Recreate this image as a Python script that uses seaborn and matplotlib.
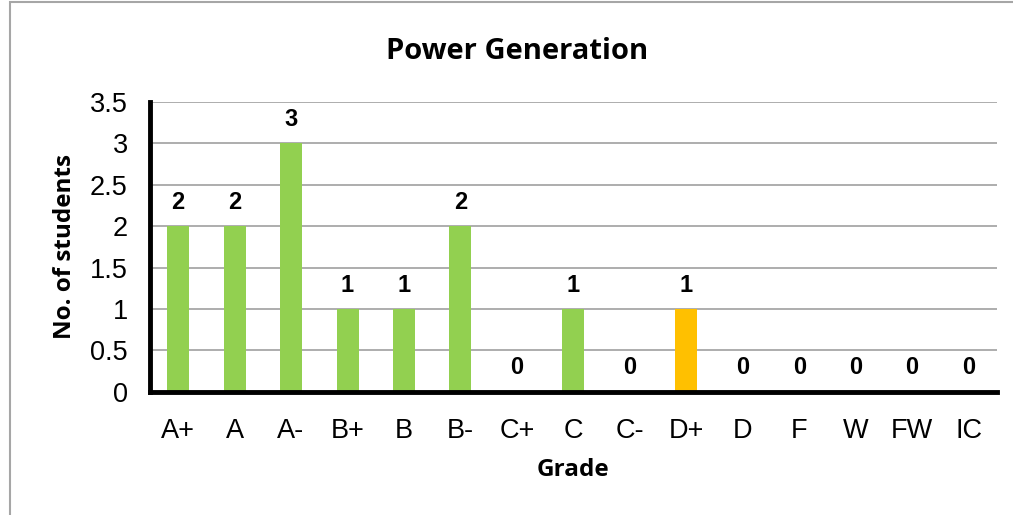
import numpy as np
import pandas as pd
import matplotlib.pyplot as plt
import seaborn as sns

# data
grades = ["A+", "A", "A-", "B+", "B", "B-", "C+", "C", "C-", "D+", "D", "F", "W", "FW", "IC"]
students = [2, 2, 3, 1, 1, 2, 0, 1, 0, 1, 0, 0, 0, 0, 0]
highlight = "D+"

green = "#92D050"
orange = "#FFC000"

df = pd.DataFrame({"grade": grades, "students": students})
palette = {g: (orange if g == highlight else green) for g in grades}

sns.set_style("white")
plt.rcParams['font.family'] = ['Liberation Sans', 'DejaVu Sans']
# excel-style black text instead of seaborn's dark grey
plt.rcParams.update({"text.color": "black", "axes.labelcolor": "black",
                     "xtick.color": "black", "ytick.color": "black"})

fig = plt.figure(figsize=(10.13, 5.15), dpi=100)
ax = fig.add_axes([0.148, 0.239, 0.836, 0.563])

sns.barplot(data=df, x="grade", y="students", hue="grade", palette=palette,
            width=0.39, legend=False, saturation=1, linewidth=0, ax=ax)

ax.set_ylim(0, 3.5)
ax.set_xlim(-0.5, len(grades) - 0.5)
ax.set_yticks(np.arange(0, 3.51, 0.5))
ax.set_yticklabels(["0", "0.5", "1", "1.5", "2", "2.5", "3", "3.5"])
ax.yaxis.grid(True, color="#A0A0A0", linewidth=1.2)
ax.set_axisbelow(True)

# category-boundary ticks on x
ax.set_xticks(np.arange(len(grades)))
ax.set_xticklabels(grades)
ax.set_xticks(np.arange(-0.5, len(grades), 1), minor=True)
ax.tick_params(axis="x", which="major", length=0, labelsize=19.5, pad=19)
ax.tick_params(axis="x", which="minor", length=6, width=3, color="black", direction="out")
ax.tick_params(axis="y", length=6, width=3, color="black", direction="out", labelsize=19.5, pad=10)

for s in ["top", "right"]:
    ax.spines[s].set_visible(False)
for s in ["left", "bottom"]:
    ax.spines[s].set_linewidth(3.5)
    ax.spines[s].set_color("black")

for i, v in enumerate(students):
    ax.text(i, v + 0.29, str(v), ha="center", va="center", fontsize=17, fontweight="bold")

ax.set_xlabel("Grade", fontsize=17.5, fontweight="bold", family="Open Sans", labelpad=10)
ax.set_ylabel("No. of students", fontsize=17.5, fontweight="bold", family="Open Sans", labelpad=9)
fig.text(0.51, 0.9, "Power Generation", ha="center", va="center",
         fontsize=21, fontweight="bold", family="Open Sans")

# outer chart border
border = plt.Rectangle((10 / 1013, -0.1), 1.2, 1.1 - 2 / 515, transform=fig.transFigure,
                       fill=False, edgecolor="#A6A6A6", linewidth=1.5)
fig.patches.append(border)

fig.savefig("out.png", dpi=100)
